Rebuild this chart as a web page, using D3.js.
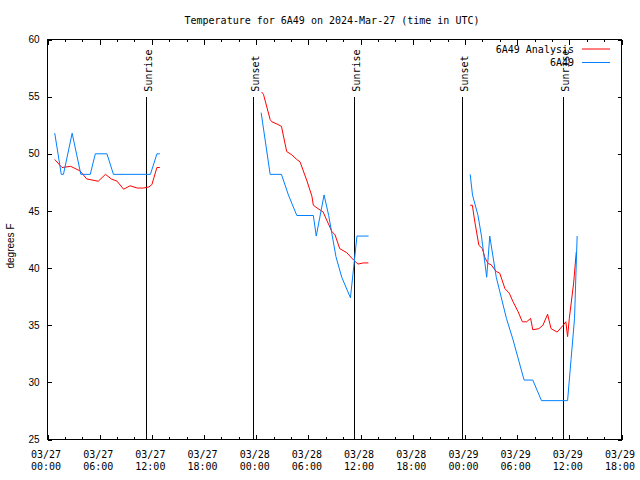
<!DOCTYPE html>
<html><head><meta charset="utf-8">
<script src="https://cdn.jsdelivr.net/npm/d3@7"></script>
<style>
html,body{margin:0;padding:0;background:#fff;}
svg{display:block;}
.mono{font-family:"DejaVu Sans Mono","Liberation Mono",monospace;font-size:10px;}
.sans{font-family:"Liberation Sans",Arial,sans-serif;font-size:10px;}
</style>
</head><body>
<svg id="c" width="640" height="480"></svg>
<script>
// ---------------- data ----------------
const title = "Temperature for 6A49 on 2024-Mar-27 (time in UTC)";
const yLabel = "degrees F";
const xDomain = ["03-27 00:00", "03-29 18:00"];
const yDomain = [25, 60];
const yTicks = [25, 30, 35, 40, 45, 50, 55, 60];
const seriesNames = ["6A49 Analysis", "6A49"];

const analysisTimes = [
  "03-27 00:50","03-27 01:40","03-27 02:40","03-27 03:45","03-27 04:30","03-27 05:50","03-27 06:40",
  "03-27 07:20","03-27 08:00","03-27 08:45","03-27 09:30","03-27 10:20","03-27 11:00","03-27 11:40",
  "03-27 12:00","03-27 12:35","03-27 12:55","03-27 18:00",
  "03-28 00:38","03-28 00:50","03-28 01:36","03-28 01:48","03-28 02:24","03-28 02:54","03-28 03:30",
  "03-28 04:06","03-28 04:40","03-28 05:02","03-28 05:48","03-28 06:24","03-28 06:34","03-28 07:06",
  "03-28 07:42","03-28 08:06","03-28 08:42","03-28 09:04","03-28 09:36","03-28 10:24","03-28 11:12",
  "03-28 11:42","03-28 12:18","03-28 12:54","03-28 18:00",
  "03-29 00:36","03-29 00:51","03-29 01:06","03-29 01:36","03-29 02:00","03-29 02:18","03-29 02:39",
  "03-29 03:00","03-29 03:36","03-29 04:00","03-29 04:36","03-29 05:06","03-29 05:30","03-29 06:06",
  "03-29 06:36","03-29 07:06","03-29 07:33","03-29 07:48","03-29 08:30","03-29 08:58","03-29 09:30",
  "03-29 09:54","03-29 10:36","03-29 11:18","03-29 11:36","03-29 11:48","03-29 12:00","03-29 12:30",
  "03-29 12:48"
];
const analysisTemps = [
  49.5,48.8,48.9,48.5,47.8,47.6,48.2,
  47.8,47.6,46.9,47.2,47.0,47.0,47.1,
  47.3,48.8,48.8,null,
  55.4,55.2,53.0,52.8,52.6,52.4,50.2,
  49.9,49.5,49.3,47.7,46.3,45.5,45.2,
  44.9,44.2,43.2,42.9,41.7,41.35,40.7,
  40.35,40.45,40.45,null,
  45.5,45.5,44.2,42.0,41.7,40.9,40.4,
  40.3,39.7,39.55,38.2,37.8,37.1,36.2,
  35.3,35.3,35.6,34.6,34.7,35.0,35.96,
  34.7,34.4,35.0,35.3,34.0,35.6,38.7,
  41.4
];

const obsTimes = [
  "03-27 00:50","03-27 01:35","03-27 01:50","03-27 02:50","03-27 03:50","03-27 04:55","03-27 05:30",
  "03-27 06:50","03-27 07:35","03-27 11:50","03-27 12:35","03-27 12:55","03-27 18:00",
  "03-28 00:34","03-28 01:36","03-28 02:54","03-28 03:42","03-28 04:40","03-28 06:34","03-28 06:54",
  "03-28 07:48","03-28 08:20","03-28 09:10","03-28 09:50","03-28 10:50","03-28 11:35","03-28 12:55",
  "03-28 18:00",
  "03-29 00:36","03-29 00:52","03-29 01:30","03-29 01:54","03-29 02:30","03-29 02:51","03-29 03:36",
  "03-29 04:46","03-29 05:30","03-29 06:48","03-29 07:48","03-29 08:48","03-29 11:48","03-29 12:12",
  "03-29 12:36","03-29 12:54"
];
const obsTemps = [
  51.8,48.2,48.2,51.8,48.2,48.2,50.0,
  50.0,48.2,48.2,50.0,50.0,null,
  53.6,48.2,48.2,46.4,44.6,44.6,42.8,
  46.4,44.6,41.0,39.2,37.4,42.8,42.8,
  null,
  48.2,46.4,44.6,42.8,39.2,42.8,39.2,
  35.6,33.8,30.2,30.2,28.4,28.4,32.0,
  35.6,42.8
];

const sunLabels = ["Sunrise","Sunset","Sunrise","Sunset","Sunrise"];
const sunTimes  = ["03-27 11:17","03-27 23:35","03-28 11:17","03-28 23:41","03-29 11:17"];
const sunLineTop = 55;

// ---------------- drawing ----------------
const parse = d3.utcParse("%Y-%m-%d %H:%M");
const T = s => parse("2024-" + s);
const svg = d3.select("#c");
const L = 47.5, R = 621.5, TOP = 39.5, BOT = 439.5;

const x = d3.scaleUtc().domain(xDomain.map(T)).range([L, R]);
const y = d3.scaleLinear().domain(yDomain).range([BOT, TOP]);

const majorX = d3.utcHour.every(6).range(x.domain()[0], d3.utcMinute.offset(x.domain()[1], 1));
const minorX = d3.utcHour.every(2).range(x.domain()[0], d3.utcMinute.offset(x.domain()[1], 1))
  .filter(d => d.getUTCHours() % 6 !== 0);

function styleAxis(g){
  g.select(".domain").remove();
  g.selectAll(".tick line").attr("stroke","#000").attr("shape-rendering","crispEdges");
}
// bottom
svg.append("g").attr("transform",`translate(0,${BOT})`)
  .call(d3.axisBottom(x).tickValues(majorX).tickSize(-5).tickFormat(""))
  .call(styleAxis);
svg.append("g").attr("transform",`translate(0,${BOT})`)
  .call(d3.axisBottom(x).tickValues(minorX).tickSize(-2.5).tickFormat(""))
  .call(styleAxis);
// top
svg.append("g").attr("transform",`translate(0,${TOP})`)
  .call(d3.axisTop(x).tickValues(majorX).tickSize(-5).tickFormat(""))
  .call(styleAxis);
svg.append("g").attr("transform",`translate(0,${TOP})`)
  .call(d3.axisTop(x).tickValues(minorX).tickSize(-2.5).tickFormat(""))
  .call(styleAxis);
// left
const gl = svg.append("g").attr("transform",`translate(${L},0)`)
  .call(d3.axisLeft(y).tickValues(yTicks).tickSize(-4).tickPadding(8).tickFormat(d3.format("d")))
  .call(styleAxis);
gl.selectAll(".tick text").attr("class","sans").attr("fill","#000").attr("font-size",null).attr("font-family",null);
gl.attr("font-size",null).attr("font-family",null);
// right
svg.append("g").attr("transform",`translate(${R},0)`)
  .call(d3.axisRight(y).tickValues(yTicks).tickSize(-4).tickFormat(""))
  .call(styleAxis);

// x tick labels (two lines)
const fmtD = d3.utcFormat("%m/%d"), fmtT = d3.utcFormat("%H:%M");
const xl = svg.append("g").attr("class","mono").attr("text-anchor","middle");
majorX.forEach(d => {
  const t = xl.append("text").attr("x", x(d) - 1.5).attr("y", 457.5);
  t.append("tspan").attr("x", x(d) - 1.5).text(fmtD(d));
  t.append("tspan").attr("x", x(d) - 1.5).attr("dy", 12.5).text(fmtT(d));
});

// frame
svg.append("rect").attr("x",L).attr("y",TOP).attr("width",R-L).attr("height",BOT-TOP)
  .attr("fill","none").attr("stroke","#000").attr("shape-rendering","crispEdges");

// sunrise/sunset lines
sunTimes.forEach((s,i) => {
  const xx = Math.round(x(T(s))) + 0.5;
  svg.append("line").attr("x1",xx).attr("x2",xx).attr("y1",y(sunLineTop)).attr("y2",y(yDomain[0]))
    .attr("stroke","#000").attr("shape-rendering","crispEdges");
  svg.append("text").attr("class","mono")
    .attr("transform",`translate(${xx+5},${y(sunLineTop)-5}) rotate(-90)`)
    .attr("text-anchor","start").text(sunLabels[i]);
});

// series
const toData = (ts, vs) => ts.map((t,i) => ({t:T(t), v:vs[i]}));
const line = d3.line().defined(d => d.v != null).x(d => x(d.t)).y(d => y(d.v));
const colors = ["#ff0000", "#0080ff"];
svg.append("path").datum(toData(analysisTimes, analysisTemps)).attr("d", line)
  .attr("fill","none").attr("stroke",colors[0]).attr("stroke-width",1);
svg.append("path").datum(toData(obsTimes, obsTemps)).attr("d", line)
  .attr("fill","none").attr("stroke",colors[1]).attr("stroke-width",1);

// legend
seriesNames.forEach((n,i) => {
  const yy = 49 + i*13.5;
  svg.append("text").attr("class","mono").attr("x",574).attr("y",yy+3.5)
    .attr("text-anchor","end").text(n);
  svg.append("line").attr("x1",582).attr("x2",610).attr("y1",yy).attr("y2",yy)
    .attr("stroke",colors[i]).attr("stroke-width",1);
});

// title & y label
svg.append("text").attr("class","mono").attr("x",332).attr("y",24)
  .attr("text-anchor","middle").text(title);
svg.append("text").attr("class","sans")
  .attr("transform","translate(14,246) rotate(-90)")
  .attr("text-anchor","middle").text(yLabel);
</script>
</body></html>
